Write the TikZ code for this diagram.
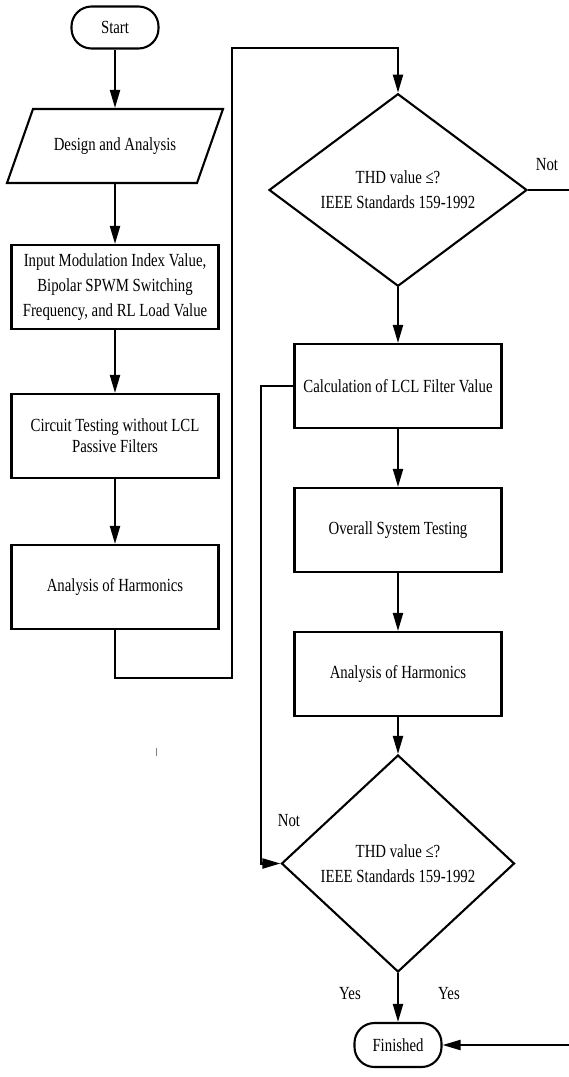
\documentclass[tikz,border=0pt]{standalone}
\usepackage{fontspec}
\setmainfont{Liberation Serif}[FakeStretch=0.8]
\usetikzlibrary{shapes.geometric,arrows.meta}
\begin{document}
\begin{tikzpicture}[x=1pt,y=-1pt,
  line width=2.1pt,
  txt/.style={font=\fontsize{18.5}{25}\selectfont},
  proc/.style={txt, draw, rectangle, minimum width=207pt, minimum height=84pt, align=center, inner sep=0pt},
  term/.style={txt, draw, rectangle, rounded corners=20pt, minimum width=87pt, minimum height=42pt, inner sep=0pt},
  dec/.style={txt, draw, diamond, inner sep=0pt, align=center},
  arr/.style={-{Triangle[length=18pt,width=10pt]}},
  lbl/.style={txt, inner sep=0pt}
]
\useasboundingbox (0,0) rectangle (569,1077);

% left column
\node[term] (start) at (115,27.5) {Start};
\draw (33,109) -- (223,109) -- (197,183) -- (7,183) -- cycle;
\node[txt, minimum width=180pt, minimum height=74pt, inner sep=0pt] (design) at (115,146) {Design and Analysis};
\node[proc] (input) at (115,287) {Input Modulation Index Value,\\Bipolar SPWM Switching\\Frequency, and RL Load Value};
\node[proc, font=\fontsize{18.5}{21}\selectfont] (circuit) at (115,436) {Circuit Testing without LCL\\Passive Filters};
\node[proc] (anal1) at (115,587) {Analysis of Harmonics};

% right column
\node[dec, minimum width=258pt, minimum height=186pt] (dia1) at (398,190) {THD value ≤?\\IEEE Standards 159-1992};
\node[proc] (calc) at (398,386) {Calculation of LCL Filter Value};
\node[proc] (overall) at (398,530) {Overall System Testing};
\node[proc] (anal2) at (398,674) {Analysis of Harmonics};
\node[dec, minimum width=233pt, minimum height=217pt] (dia2) at (398,863.5) {THD value ≤?\\IEEE Standards 159-1992};
\node[term, minimum height=44pt] (fin) at (398,1045) {Finished};

% helper coordinates
\coordinate (c1) at (115,678);
\coordinate (c2) at (232,678);
\coordinate (c3) at (232,48);
\coordinate (c4) at (398,48);
\coordinate (l1) at (261,386);
\coordinate (r1) at (580,190);
\coordinate (r2) at (580,1045);

% connectors
\draw[arr] (start) -- (design.north);
\draw[arr] (design.south) -- (input.north);
\draw[arr] (input) -- (circuit);
\draw[arr] (circuit) -- (anal1);
\draw[arr] (anal1.south) -- (c1) -- (c2) -- (c3) -- (c4) -- (dia1.north);
\draw[arr] (dia1.south) -- (calc.north);
\draw[arr] (calc) -- (overall);
\draw[arr] (overall) -- (anal2);
\draw[arr] (anal2.south) -- (dia2.north);
\draw[arr] (dia2.south) -- (fin.north);
\draw[arr] (calc.west) -- (l1) |- (dia2.west);
\draw[arr] (dia1.east) -- (r1) -- (r2) -- (fin.east);

% labels
\node[lbl] (not1) at (547,165) {Not};
\node[lbl] (not2) at (289,821) {Not};
\node[lbl] (yes1) at (350,994) {Yes};
\node[lbl] (yes2) at (449,994) {Yes};

% small stray mark
\draw[gray, line width=1pt] (156.5,748) -- (156.5,756);
\end{tikzpicture}
\end{document}
